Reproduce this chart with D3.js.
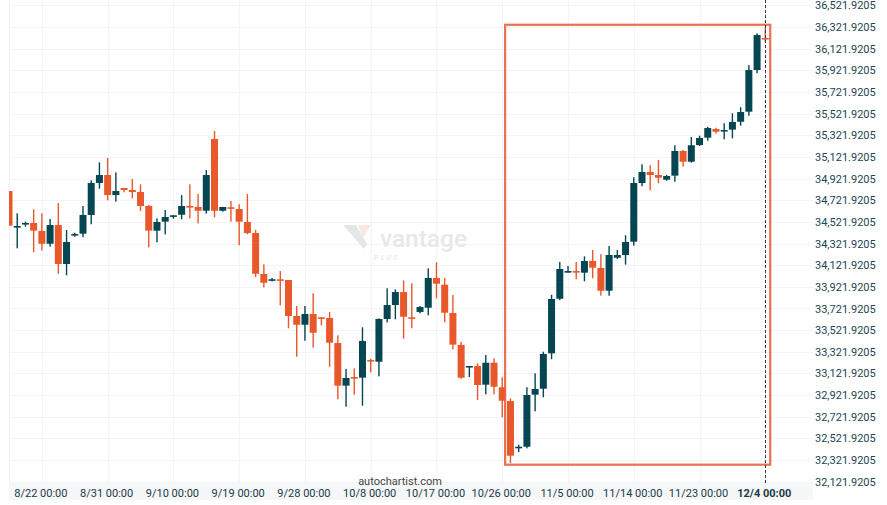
<!DOCTYPE html>
<html>
<head>
<meta charset="utf-8">
<script src="https://cdn.jsdelivr.net/npm/d3@7/dist/d3.min.js"></script>
<style>
  html, body { margin: 0; padding: 0; background: #ffffff; }
  svg { display: block; }
</style>
</head>
<body>
<svg id="chart" width="887" height="505"></svg>
<script>
// ---- data ----
const openVals = [34807,34478,34502,34512,34438,34320,34493,34133,34401,34413,34586,34881,34955,34770,34835,34817,34798,34669,34441,34524,34576,34588,34669,34660,34625,35288,34625,34657,34641,34521,34419,34041,33985,33992,33985,33653,33572,33671,33641,33634,33403,33009,33089,33083,33246,33230,33625,33754,33874,33641,33690,33729,34004,33942,33680,33385,33184,33191,33018,33221,32994,32867,32440,32445,32926,32981,33308,33812,34062,34068,34053,34161,34096,33886,34191,34216,34339,34881,34983,34955,34912,34949,35177,35078,35232,35300,35380,35359,35374,35447,35540,35925,36221];
const highVals = [34807,34601,34524,34638,34601,34549,34696,34447,34422,34669,34906,35072,35112,34980,34835,34918,34869,34678,34555,34632,34583,34770,34869,34780,35001,35362,34660,34715,34685,34780,34447,34130,34004,34068,33985,33745,33745,33862,33641,33690,33474,33163,33169,33548,33258,33631,33908,33899,33982,33955,33745,34093,34149,34004,33847,33415,33191,33216,33292,33262,33086,32892,32464,32994,33123,33323,33849,34151,34115,34151,34204,34262,34223,34299,34262,34398,34934,35054,35045,35094,34955,35230,35186,35306,35318,35399,35392,35433,35525,35581,35971,36264,36320];
const lowVals = [34484,34278,34478,34241,34259,34293,34043,34029,34385,34380,34500,34829,34721,34709,34795,34740,34623,34287,34333,34407,34551,34546,34555,34509,34598,34564,34616,34524,34306,34407,34013,33918,33973,33751,33539,33277,33424,33360,33567,33184,32883,32815,32926,32824,33132,33095,33594,33622,33443,33539,33678,33659,33816,33594,33345,33073,33089,32877,32929,32929,32717,32292,32396,32430,32772,32902,33253,33800,34053,33992,33973,34001,33840,33840,34179,34127,34302,34851,34814,34878,34902,34893,35032,35069,35223,35272,35337,35285,35294,35411,35503,35895,36187];
const closeVals = [34487,34484,34512,34441,34320,34493,34133,34336,34410,34586,34881,34955,34770,34807,34817,34798,34669,34441,34521,34567,34583,34669,34660,34625,34955,34625,34660,34644,34524,34419,34043,33960,33992,33985,33653,33572,33671,33498,33634,33406,33009,33080,33080,33422,33237,33625,33754,33874,33646,33631,33736,34004,33951,33683,33388,33083,33191,33015,33221,32999,32870,32362,32445,32923,32978,33302,33810,34087,34068,34062,34161,34099,33886,34216,34216,34336,34881,34983,34955,34930,34946,35177,35078,35230,35297,35389,35355,35371,35445,35537,35925,36248,36214];

const xTickIndex = [4,12,20,28,36,44,52,60,68,76,84,92];
const xTickLabels = ["8/22 00:00","8/31 00:00","9/10 00:00","9/19 00:00","9/28 00:00","10/8 00:00","10/17 00:00","10/26 00:00","11/5 00:00","11/14 00:00","11/23 00:00","12/4 00:00"];
const yTicks = [32121.9205,32321.9205,32521.9205,32721.9205,32921.9205,33121.9205,33321.9205,33521.9205,33721.9205,33921.9205,34121.9205,34321.9205,34521.9205,34721.9205,34921.9205,35121.9205,35321.9205,35521.9205,35721.9205,35921.9205,36121.9205,36321.9205,36521.9205];

// pattern box (index range and price range) and current-time marker
const boxIndex = [60.35, 92.6];
const boxPrice = [32279, 36343];
const markerIndex = 92;

// ---- layout ----
const plotLeft = 9, plotRight = 813, plotBottom = 482;
const svg = d3.select("#chart");

const x = d3.scaleLinear().domain([0, 92]).range([9, 765.3]);
const y = d3.scaleLinear().domain([32121.9205, 36521.9205]).range([481.7, 5.4]);

const upColor = "#064653";
const downColor = "#e8582a";
const bodyW = 7;

// clip
svg.append("defs").append("clipPath").attr("id", "plotclip")
  .append("rect").attr("x", plotLeft).attr("y", 0).attr("width", plotRight - plotLeft).attr("height", plotBottom);

// grid
const grid = svg.append("g");
grid.selectAll("line.h").data(yTicks).join("line")
  .attr("x1", plotLeft).attr("x2", plotRight)
  .attr("y1", d => Math.round(y(d)) + 0.5).attr("y2", d => Math.round(y(d)) + 0.5)
  .attr("stroke", "#f4f4f4").attr("stroke-width", 1);
grid.selectAll("line.v").data(xTickIndex).join("line")
  .attr("x1", d => Math.round(x(d)) + 0.5).attr("x2", d => Math.round(x(d)) + 0.5)
  .attr("y1", 0).attr("y2", plotBottom)
  .attr("stroke", "#f4f4f4").attr("stroke-width", 1);
grid.append("line").attr("x1", plotLeft + 0.5).attr("x2", plotLeft + 0.5)
  .attr("y1", 0).attr("y2", plotBottom).attr("stroke", "#f0f0f0");

// watermark
const wm = svg.append("g");
wm.append("path")
  .attr("d", "M343,225 L356,225 L367,244 L364,249 Z")
  .attr("fill", "#e4e7e8");
wm.append("path")
  .attr("d", "M358,225 L371,225 L363,238 Z")
  .attr("fill", "#f8e8df");
wm.append("text").attr("x", 380).attr("y", 247)
  .attr("font-family", "Roboto, 'Open Sans', sans-serif").attr("font-size", 24).attr("font-weight", 500)
  .attr("fill", "#e6e8e9").attr("textLength", 87).attr("lengthAdjust", "spacingAndGlyphs").text("vantage");
wm.append("text").attr("x", 374).attr("y", 260)
  .attr("font-family", "Roboto, sans-serif").attr("font-size", 7.5).attr("font-weight", 700)
  .attr("font-style", "italic")
  .attr("letter-spacing", 2).attr("fill", "#f8e8df").text("PLUS");

// candles
const data = openVals.map((o, i) => ({ i, o, h: highVals[i], l: lowVals[i], c: closeVals[i] }));
const cg = svg.append("g").attr("clip-path", "url(#plotclip)");
const cand = cg.selectAll("g.c").data(data).join("g");
cand.append("rect")
  .attr("x", d => x(d.i) - 0.7).attr("width", 1.4)
  .attr("y", d => y(d.h)).attr("height", d => Math.max(1, y(d.l) - y(d.h)))
  .attr("fill", d => d.c >= d.o ? upColor : downColor);
cand.append("rect")
  .attr("x", d => x(d.i) - bodyW / 2).attr("width", bodyW)
  .attr("y", d => y(Math.max(d.o, d.c)))
  .attr("height", d => Math.max(1.6, Math.abs(y(d.o) - y(d.c))))
  .attr("fill", d => d.c >= d.o ? upColor : downColor);

// pattern box
svg.append("rect")
  .attr("x", x(boxIndex[0])).attr("y", y(boxPrice[1]))
  .attr("width", x(boxIndex[1]) - x(boxIndex[0]))
  .attr("height", y(boxPrice[0]) - y(boxPrice[1]))
  .attr("fill", "none").attr("stroke", "#ea5f3d").attr("stroke-width", 2.2).attr("stroke-opacity", 0.9);

// x axis band
svg.append("rect").attr("x", plotLeft).attr("y", plotBottom + 1).attr("width", plotRight - plotLeft).attr("height", 17)
  .attr("fill", "#f6f7f8");

// marker dashed line
svg.append("line")
  .attr("x1", Math.round(x(markerIndex)) + 0.5).attr("x2", Math.round(x(markerIndex)) + 0.5)
  .attr("y1", 0).attr("y2", plotBottom + 3)
  .attr("stroke", "#2b3a40").attr("stroke-width", 1).attr("stroke-dasharray", "3,2");

// x labels
svg.append("g").selectAll("text").data(xTickIndex).join("text")
  .attr("x", d => x(d) - 1).attr("y", 497)
  .attr("text-anchor", "middle")
  .attr("font-family", "Roboto, 'Noto Sans', sans-serif").attr("font-size", 11)
  .attr("font-weight", (d, k) => k === xTickIndex.length - 1 ? 700 : 400)
  .attr("fill", "#183a47")
  .text((d, k) => xTickLabels[k]);

// y labels
const fmt = d3.format(",.4f");
svg.append("g").selectAll("text").data(yTicks).join("text")
  .attr("x", 815).attr("y", d => y(d) + 4)
  .attr("font-family", "Roboto, 'Noto Sans', sans-serif").attr("font-size", 11)
  .attr("fill", "#1b4552")
  .text(d => fmt(d));

// source
svg.append("text").attr("x", 400).attr("y", 485)
  .attr("text-anchor", "middle")
  .attr("font-family", "Roboto, 'Noto Sans', sans-serif").attr("font-size", 11)
  .attr("fill", "#444").text("autochartist.com");
</script>
</body>
</html>
